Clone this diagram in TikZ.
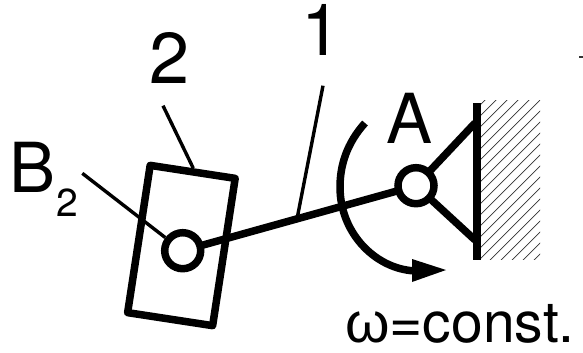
\documentclass[tikz,border=0pt]{standalone}
\usepackage{fontspec}
\setmainfont{TeX Gyre Heros}
\newfontfamily\omegafont{Liberation Sans}
\usetikzlibrary{arrows.meta}
\tikzset{
  pin/.style={circle,draw,fill=white,line width=7.5pt,minimum size=36pt,inner sep=0pt},
  slider/.style={rectangle,draw,line width=7.5pt,line join=round,minimum width=86pt,minimum height=149pt,inner sep=0pt,rotate=-8.7},
  wallbar/.style={rectangle,fill=black,minimum width=8pt,minimum height=157pt,inner sep=0pt},
  bar/.style={line width=7.5pt},
  leader/.style={line width=3.4pt},
  hatchline/.style={line width=0.7pt,black!80},
  lab/.style={inner sep=0pt,anchor=base,font=\fontsize{69}{69}\selectfont},
  bignum/.style={lab,font=\fontsize{72}{72}\selectfont},
}
\begin{document}
\begin{tikzpicture}[x=1pt,y=-1pt]
\useasboundingbox (0,0) rectangle (583,353);
% hatching
\begin{scope}
\clip (480,100) rectangle (540,259);
\foreach \s in {563,574,...,805}{
  \draw[hatchline] (\s-300,300) -- (\s-50,50);
}
\end{scope}
\node[wallbar] (wall) at (476.7,181) {};
\coordinate (wt) at (475,123);
\coordinate (wb) at (475,240);
\coordinate (A0) at (416,185.7);
\coordinate (B0) at (182.7,250.7);
\node[slider] (box) at (181.4,245.5) {};
\draw[bar] (B0) -- coordinate[pos=0.49] (m) (A0);
\draw[bar] (A0) -- (wt);
\draw[bar] (A0) -- (wb);
\node[pin] (A) at (A0) {};
\node[pin] (B) at (B0) {};
% rotation arrow
\coordinate (r0) at (365,123);
\coordinate (r1) at (340,187);
\coordinate (r2) at (418,271);
\draw[line width=7.5pt] (r0) .. controls (347,143) and (340,165) .. (r1)
  .. controls (340,235) and (378,271) .. (r2);
\fill (446,270) -- (412,259) -- (412,282) -- cycle;
% leaders
\coordinate (l2) at (163,105.7);
\coordinate (l1) at (323,85.7);
\coordinate (lb) at (82.3,173.3);
\draw[leader] (l2) -- (box.north);
\draw[leader] (l1) -- (m);
\draw[leader] (lb) -- (B.143);
% stray mark
\coordinate (s0) at (579,57);
\coordinate (s1) at (583,57);
\draw[line width=1.4pt,black!80] (s0) -- (s1);
% labels
\node[bignum] (t1) at (322,56) {1};
\node[bignum] (t2) at (170,83) {2};
\node[lab] (tb) at (33,192) {B};
\node[lab,font=\fontsize{39}{39}\selectfont] (tb2) at (67,216) {2};
\node[lab] (ta) at (410,143) {A};
\node[lab,font=\fontsize{57}{57}\selectfont,anchor=base west] (tw) at (345,342) {{\omegafont ω}=const.};
\end{tikzpicture}
\end{document}
